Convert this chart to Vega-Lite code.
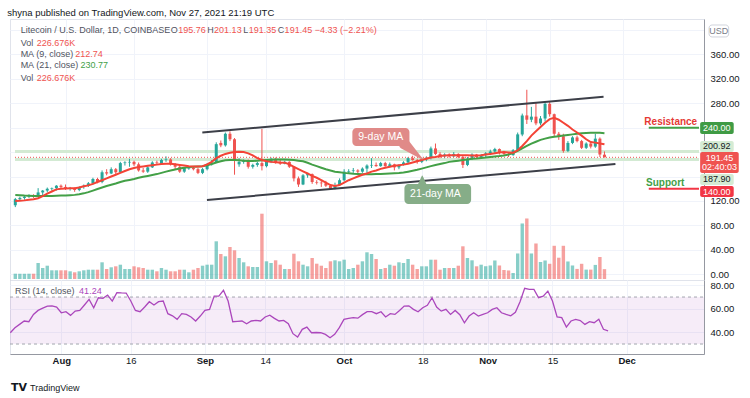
{
"$schema": "https://vega.github.io/schema/vega-lite/v6.json",
"background": "#ffffff",
"padding": {"left": 7, "top": 8, "right": 0, "bottom": 0},
"autosize": {"type": "pad"},
"title": {"text": "shyna published on TradingView.com, Nov 27, 2021 21:19 UTC", "anchor": "start", "fontSize": 9.5, "fontWeight": "normal", "font": "Liberation Sans", "color": "#131722", "offset": 1, "baseline": "top"},
"config": {"view": {"stroke": "#e0e3eb"}, "axis": {"labelFont": "Liberation Sans", "labelFontSize": 9.5, "labelColor": "#131722"}, "text": {"font": "Liberation Sans"}},
"spacing": 0,
"bounds": "flush",
"datasets": {
"ohlc": [
{"d":"2021-07-21","o":113,"h":125,"l":110,"c":123,"v":122,"m9":120,"m21":129.8,"r":39.6},
{"d":"2021-07-22","o":123,"h":127,"l":120,"c":125,"v":122,"m9":120.5,"m21":129.5,"r":43.9},
{"d":"2021-07-23","o":125,"h":129,"l":122,"c":127,"v":122,"m9":121,"m21":129,"r":46.7},
{"d":"2021-07-24","o":127,"h":131,"l":125,"c":128,"v":122,"m9":122,"m21":128.7,"r":49.6},
{"d":"2021-07-25","o":128,"h":131,"l":125,"c":127,"v":122,"m9":123,"m21":128.3,"r":49},
{"d":"2021-07-26","o":127,"h":141,"l":126,"c":134,"v":368,"m9":124.5,"m21":128,"r":55.2},
{"d":"2021-07-27","o":134,"h":138,"l":129,"c":137,"v":253,"m9":128,"m21":128,"r":58.6},
{"d":"2021-07-28","o":137,"h":142,"l":134,"c":140,"v":306,"m9":132,"m21":128,"r":60.5},
{"d":"2021-07-29","o":140,"h":142,"l":137,"c":141,"v":200,"m9":135.5,"m21":128.2,"r":62.3},
{"d":"2021-07-30","o":141,"h":146,"l":137,"c":145,"v":200,"m9":139,"m21":128.5,"r":62.5},
{"d":"2021-07-31","o":145,"h":147,"l":141,"c":143,"v":200,"m9":140,"m21":128.8,"r":61.5},
{"d":"2021-08-01","o":143,"h":147,"l":138,"c":140,"v":200,"m9":140.5,"m21":129,"r":56.6},
{"d":"2021-08-02","o":140,"h":143,"l":137,"c":141,"v":177,"m9":140.7,"m21":129.5,"r":57.5},
{"d":"2021-08-03","o":141,"h":142,"l":135,"c":138,"v":154,"m9":141,"m21":130,"r":54.4},
{"d":"2021-08-04","o":138,"h":144,"l":136,"c":143,"v":177,"m9":142,"m21":131,"r":58},
{"d":"2021-08-05","o":143,"h":147,"l":140,"c":145,"v":200,"m9":144,"m21":132.5,"r":58.6},
{"d":"2021-08-06","o":145,"h":151,"l":143,"c":149,"v":214,"m9":145.5,"m21":134.5,"r":63.2},
{"d":"2021-08-07","o":149,"h":158,"l":147,"c":156,"v":214,"m9":148,"m21":137,"r":68},
{"d":"2021-08-08","o":156,"h":158,"l":149,"c":151,"v":214,"m9":151,"m21":139.5,"r":60.9},
{"d":"2021-08-09","o":151,"h":170,"l":149,"c":167,"v":384,"m9":154,"m21":142,"r":69.4},
{"d":"2021-08-10","o":167,"h":172,"l":162,"c":165,"v":230,"m9":157,"m21":144.5,"r":68.9},
{"d":"2021-08-11","o":165,"h":175,"l":164,"c":172,"v":269,"m9":160,"m21":146.5,"r":71.7},
{"d":"2021-08-12","o":172,"h":174,"l":164,"c":167,"v":292,"m9":163,"m21":148.5,"r":66.6},
{"d":"2021-08-13","o":167,"h":184,"l":166,"c":182,"v":329,"m9":166,"m21":151,"r":73.7},
{"d":"2021-08-14","o":182,"h":185,"l":178,"c":183,"v":230,"m9":169,"m21":153,"r":73.5},
{"d":"2021-08-15","o":183,"h":189,"l":176,"c":184,"v":230,"m9":172,"m21":154.5,"r":73.4},
{"d":"2021-08-16","o":184,"h":186,"l":177,"c":180,"v":292,"m9":174,"m21":156,"r":66.6},
{"d":"2021-08-17","o":180,"h":183,"l":168,"c":170,"v":269,"m9":175.5,"m21":158,"r":58.6},
{"d":"2021-08-18","o":170,"h":174,"l":166,"c":168,"v":253,"m9":176.5,"m21":159.5,"r":57.5},
{"d":"2021-08-19","o":168,"h":177,"l":166,"c":175,"v":214,"m9":177.5,"m21":161,"r":61.5},
{"d":"2021-08-20","o":175,"h":185,"l":174,"c":183,"v":214,"m9":178.5,"m21":162.5,"r":66},
{"d":"2021-08-21","o":183,"h":186,"l":179,"c":182,"v":177,"m9":179.5,"m21":164,"r":63.2},
{"d":"2021-08-22","o":181,"h":189,"l":179,"c":187,"v":253,"m9":180.5,"m21":166,"r":66},
{"d":"2021-08-23","o":187,"h":193,"l":184,"c":188,"v":214,"m9":181,"m21":168,"r":66.6},
{"d":"2021-08-24","o":188,"h":190,"l":178,"c":180,"v":177,"m9":181,"m21":170,"r":55.8},
{"d":"2021-08-25","o":180,"h":182,"l":172,"c":176,"v":177,"m9":180,"m21":171.5,"r":54},
{"d":"2021-08-26","o":176,"h":178,"l":166,"c":168,"v":214,"m9":179,"m21":173,"r":51},
{"d":"2021-08-27","o":168,"h":175,"l":166,"c":174,"v":214,"m9":178,"m21":174.5,"r":55.8},
{"d":"2021-08-28","o":173,"h":177,"l":171,"c":174,"v":154,"m9":177,"m21":175.5,"r":55.2},
{"d":"2021-08-29","o":174,"h":176,"l":170,"c":172,"v":214,"m9":176.5,"m21":176,"r":53},
{"d":"2021-08-30","o":172,"h":174,"l":164,"c":166,"v":253,"m9":176.5,"m21":176.5,"r":49.6},
{"d":"2021-08-31","o":166,"h":174,"l":164,"c":172,"v":306,"m9":177,"m21":177,"r":53.8},
{"d":"2021-09-01","o":172,"h":182,"l":170,"c":180,"v":329,"m9":180,"m21":178.5,"r":58.6},
{"d":"2021-09-02","o":180,"h":187,"l":178,"c":183,"v":329,"m9":184,"m21":180.5,"r":59.5},
{"d":"2021-09-03","o":183,"h":216,"l":182,"c":213,"v":867,"m9":190,"m21":183,"r":70.8},
{"d":"2021-09-04","o":215,"h":219,"l":208,"c":211,"v":575,"m9":194,"m21":185,"r":70.8},
{"d":"2021-09-05","o":211,"h":232,"l":209,"c":230,"v":522,"m9":197,"m21":186.5,"r":75.7},
{"d":"2021-09-06","o":230,"h":234,"l":218,"c":221,"v":736,"m9":199,"m21":187,"r":66.6},
{"d":"2021-09-07","o":221,"h":223,"l":163,"c":186,"v":660,"m9":200,"m21":187,"r":49},
{"d":"2021-09-08","o":180,"h":190,"l":176,"c":184,"v":483,"m9":200.5,"m21":186.5,"r":49.3},
{"d":"2021-09-09","o":184,"h":188,"l":181,"c":186,"v":384,"m9":200,"m21":186,"r":49.6},
{"d":"2021-09-10","o":186,"h":188,"l":173,"c":176,"v":292,"m9":198,"m21":185.5,"r":47.3},
{"d":"2021-09-11","o":176,"h":181,"l":173,"c":179,"v":276,"m9":194.5,"m21":185.5,"r":49.6},
{"d":"2021-09-12","o":179,"h":184,"l":176,"c":182,"v":276,"m9":190,"m21":186,"r":50.1},
{"d":"2021-09-13","o":182,"h":238,"l":170,"c":177,"v":1502,"m9":187,"m21":186.5,"r":49.6},
{"d":"2021-09-14","o":177,"h":186,"l":175,"c":184,"v":407,"m9":185,"m21":187,"r":53},
{"d":"2021-09-15","o":184,"h":191,"l":182,"c":189,"v":368,"m9":184,"m21":187.5,"r":54.5},
{"d":"2021-09-16","o":189,"h":191,"l":181,"c":183,"v":430,"m9":183.5,"m21":188,"r":51.8},
{"d":"2021-09-17","o":183,"h":187,"l":179,"c":181,"v":329,"m9":183,"m21":188,"r":49.6},
{"d":"2021-09-18","o":181,"h":186,"l":180,"c":184,"v":230,"m9":182.7,"m21":188,"r":50.1},
{"d":"2021-09-19","o":184,"h":185,"l":174,"c":176,"v":230,"m9":180,"m21":187.5,"r":47.3},
{"d":"2021-09-20","o":176,"h":177,"l":152,"c":157,"v":582,"m9":176,"m21":187,"r":38.8},
{"d":"2021-09-21","o":157,"h":160,"l":143,"c":147,"v":407,"m9":172,"m21":186,"r":35.9},
{"d":"2021-09-22","o":147,"h":164,"l":146,"c":162,"v":329,"m9":168.5,"m21":185,"r":42.5},
{"d":"2021-09-23","o":162,"h":166,"l":158,"c":164,"v":292,"m9":165,"m21":182.5,"r":44.4},
{"d":"2021-09-24","o":164,"h":165,"l":148,"c":151,"v":483,"m9":161,"m21":179.5,"r":39.6},
{"d":"2021-09-25","o":151,"h":154,"l":147,"c":150,"v":352,"m9":158,"m21":177,"r":39.8},
{"d":"2021-09-26","o":150,"h":153,"l":143,"c":149,"v":306,"m9":154,"m21":174.5,"r":39.6},
{"d":"2021-09-27","o":149,"h":153,"l":143,"c":145,"v":253,"m9":150,"m21":172,"r":38.2},
{"d":"2021-09-28","o":145,"h":147,"l":138,"c":140,"v":407,"m9":146,"m21":170,"r":35.4},
{"d":"2021-09-29","o":140,"h":150,"l":139,"c":146,"v":430,"m9":144.5,"m21":168,"r":38.2},
{"d":"2021-09-30","o":146,"h":157,"l":145,"c":154,"v":407,"m9":146,"m21":167,"r":43.9},
{"d":"2021-10-01","o":154,"h":172,"l":152,"c":168,"v":444,"m9":150,"m21":166,"r":51},
{"d":"2021-10-02","o":168,"h":172,"l":165,"c":169,"v":230,"m9":154,"m21":165.3,"r":51.8},
{"d":"2021-10-03","o":169,"h":174,"l":166,"c":170,"v":253,"m9":157,"m21":164.6,"r":52.4},
{"d":"2021-10-04","o":170,"h":172,"l":163,"c":168,"v":329,"m9":160,"m21":164.2,"r":52},
{"d":"2021-10-05","o":168,"h":175,"l":166,"c":173,"v":407,"m9":163,"m21":163.9,"r":55},
{"d":"2021-10-06","o":173,"h":180,"l":165,"c":178,"v":614,"m9":165,"m21":163.7,"r":57.5},
{"d":"2021-10-07","o":178,"h":190,"l":174,"c":179,"v":575,"m9":168,"m21":163.7,"r":57.5},
{"d":"2021-10-08","o":179,"h":183,"l":176,"c":177,"v":460,"m9":170,"m21":164,"r":55.8},
{"d":"2021-10-09","o":177,"h":184,"l":176,"c":182,"v":230,"m9":172.5,"m21":164.3,"r":57.5},
{"d":"2021-10-10","o":182,"h":184,"l":176,"c":177,"v":253,"m9":174.5,"m21":164.6,"r":53},
{"d":"2021-10-11","o":177,"h":183,"l":175,"c":180,"v":329,"m9":176,"m21":165,"r":55.8},
{"d":"2021-10-12","o":180,"h":181,"l":170,"c":175,"v":306,"m9":177.5,"m21":165.4,"r":55.2},
{"d":"2021-10-13","o":175,"h":180,"l":172,"c":179,"v":384,"m9":178.5,"m21":165.8,"r":58.6},
{"d":"2021-10-14","o":179,"h":185,"l":178,"c":183,"v":368,"m9":179.5,"m21":166.5,"r":62.3},
{"d":"2021-10-15","o":183,"h":192,"l":181,"c":190,"v":460,"m9":181,"m21":168,"r":62.5},
{"d":"2021-10-16","o":190,"h":194,"l":186,"c":187,"v":329,"m9":183,"m21":169.5,"r":59.5},
{"d":"2021-10-17","o":187,"h":189,"l":181,"c":184,"v":230,"m9":185,"m21":171,"r":57.5},
{"d":"2021-10-18","o":184,"h":191,"l":182,"c":188,"v":292,"m9":187,"m21":173,"r":60.9},
{"d":"2021-10-19","o":188,"h":193,"l":185,"c":191,"v":292,"m9":189,"m21":175,"r":63},
{"d":"2021-10-20","o":191,"h":209,"l":188,"c":206,"v":444,"m9":191,"m21":177,"r":69.4},
{"d":"2021-10-21","o":206,"h":214,"l":195,"c":197,"v":444,"m9":192,"m21":179,"r":61.5},
{"d":"2021-10-22","o":197,"h":200,"l":190,"c":193,"v":214,"m9":193.5,"m21":180.5,"r":58},
{"d":"2021-10-23","o":193,"h":198,"l":190,"c":196,"v":253,"m9":194.5,"m21":182,"r":59.5},
{"d":"2021-10-24","o":196,"h":198,"l":191,"c":193,"v":253,"m9":195,"m21":184,"r":55.2},
{"d":"2021-10-25","o":193,"h":200,"l":192,"c":197,"v":253,"m9":195,"m21":185,"r":58.6},
{"d":"2021-10-26","o":197,"h":198,"l":190,"c":192,"v":306,"m9":195,"m21":186,"r":55},
{"d":"2021-10-27","o":192,"h":195,"l":174,"c":179,"v":752,"m9":195,"m21":187,"r":48.1},
{"d":"2021-10-28","o":179,"h":192,"l":177,"c":189,"v":483,"m9":194.8,"m21":188,"r":53.8},
{"d":"2021-10-29","o":189,"h":198,"l":187,"c":196,"v":430,"m9":194.5,"m21":189,"r":56.6},
{"d":"2021-10-30","o":196,"h":197,"l":190,"c":192,"v":292,"m9":194.5,"m21":189.5,"r":53.8},
{"d":"2021-10-31","o":192,"h":197,"l":189,"c":195,"v":329,"m9":195,"m21":190.5,"r":55.2},
{"d":"2021-11-01","o":195,"h":200,"l":192,"c":198,"v":294,"m9":196,"m21":191,"r":56.6},
{"d":"2021-11-02","o":198,"h":204,"l":195,"c":201,"v":311,"m9":197,"m21":192,"r":59.5},
{"d":"2021-11-03","o":201,"h":207,"l":197,"c":205,"v":426,"m9":198,"m21":192.8,"r":60.9},
{"d":"2021-11-04","o":205,"h":206,"l":196,"c":199,"v":311,"m9":199.5,"m21":193.5,"r":56.6},
{"d":"2021-11-05","o":199,"h":202,"l":195,"c":197,"v":207,"m9":200,"m21":194.5,"r":55.2},
{"d":"2021-11-06","o":197,"h":199,"l":192,"c":195,"v":196,"m9":199.5,"m21":196,"r":54},
{"d":"2021-11-07","o":195,"h":205,"l":194,"c":203,"v":138,"m9":199,"m21":198.5,"r":57},
{"d":"2021-11-08","o":203,"h":232,"l":201,"c":229,"v":587,"m9":203,"m21":202,"r":66},
{"d":"2021-11-09","o":229,"h":263,"l":226,"c":260,"v":1277,"m9":210,"m21":206,"r":77.4},
{"d":"2021-11-10","o":260,"h":302,"l":246,"c":253,"v":1392,"m9":218,"m21":210,"r":76.5},
{"d":"2021-11-11","o":253,"h":274,"l":249,"c":258,"v":587,"m9":227,"m21":214,"r":76.5},
{"d":"2021-11-12","o":258,"h":282,"l":244,"c":247,"v":817,"m9":234,"m21":217,"r":69.4},
{"d":"2021-11-13","o":247,"h":259,"l":244,"c":255,"v":391,"m9":241,"m21":220,"r":70.8},
{"d":"2021-11-14","o":255,"h":282,"l":250,"c":279,"v":426,"m9":248,"m21":222,"r":75.1},
{"d":"2021-11-15","o":279,"h":283,"l":258,"c":262,"v":350,"m9":254,"m21":224,"r":66.6},
{"d":"2021-11-16","o":262,"h":263,"l":225,"c":230,"v":764,"m9":256,"m21":225,"r":53},
{"d":"2021-11-17","o":230,"h":233,"l":220,"c":226,"v":490,"m9":253,"m21":226,"r":52.4},
{"d":"2021-11-18","o":226,"h":230,"l":199,"c":202,"v":764,"m9":248,"m21":227,"r":44.4},
{"d":"2021-11-19","o":202,"h":218,"l":200,"c":215,"v":403,"m9":243,"m21":228,"r":49.6},
{"d":"2021-11-20","o":215,"h":226,"l":213,"c":224,"v":311,"m9":237,"m21":229,"r":51},
{"d":"2021-11-21","o":224,"h":227,"l":216,"c":218,"v":232,"m9":232,"m21":230,"r":50},
{"d":"2021-11-22","o":218,"h":220,"l":205,"c":207,"v":350,"m9":227,"m21":230.7,"r":46.7},
{"d":"2021-11-23","o":207,"h":216,"l":205,"c":214,"v":216,"m9":221,"m21":231.2,"r":49},
{"d":"2021-11-24","o":214,"h":216,"l":206,"c":209,"v":216,"m9":216.5,"m21":231.6,"r":48.1},
{"d":"2021-11-25","o":209,"h":230,"l":207,"c":222,"v":324,"m9":215.5,"m21":231.8,"r":51},
{"d":"2021-11-26","o":222,"h":224,"l":192,"c":196,"v":506,"m9":214,"m21":231.5,"r":42.5},
{"d":"2021-11-27","o":195.76,"h":201.13,"l":191.35,"c":191.45,"v":226.676,"m9":212.74,"m21":230.77,"r":41.24}
],
"lev": [
{"d":"2021-07-20T22:26:00Z","d2":"2021-12-17T16:48:00Z","p":200.92},
{"d":"2021-07-20T22:26:00Z","d2":"2021-12-17T16:48:00Z","p":187.9}
],
"last": [{"d":"2021-07-20T22:26:00Z","d2":"2021-12-17T16:48:00Z","p":191.45}],
"sr": [
{"d":"2021-12-06T16:48:00Z","d2":"2021-12-17T16:48:00Z","p":240,"k":"rl"},
{"d":"2021-12-06T16:48:00Z","d2":"2021-12-17T16:48:00Z","p":140,"k":"sl"}
],
"chan": [
{"d":"2021-08-30T22:48:00Z","p":232,"g":"up"},
{"d":"2021-11-26T19:12:00Z","p":290.5,"g":"up"},
{"d":"2021-08-31T23:02:00Z","p":121.6,"g":"lo"},
{"d":"2021-11-29T09:36:00Z","p":180.5,"g":"lo"}
],
"boxes": [
{"d":"2021-10-02T19:12:00Z","d2":"2021-10-15T07:12:00Z","p":239.4,"p2":210,"k":"ma9"},
{"d":"2021-10-14T04:48:00Z","d2":"2021-10-28T19:12:00Z","p":147.8,"p2":115.1,"k":"ma21"}
],
"tails": [
{"d":"2021-10-14T04:48:00Z","p":213.3,"k":"ma9","s":"base","n":0},
{"d":"2021-10-18T02:24:00Z","p":188.7,"k":"ma9","s":"tip","n":1},
{"d":"2021-10-18T02:24:00Z","p":142.9,"k":"ma21","s":"base","n":0},
{"d":"2021-10-18T02:24:00Z","p":160.9,"k":"ma21","s":"tip","n":1}
],
"mal": [
{"d":"2021-10-09T00:00:00Z","p":224.7,"t":"9-day MA"},
{"d":"2021-10-21T00:00:00Z","p":131.4,"t":"21-day MA"}
],
"leg": [
{"d":"2021-07-22T04:00:00Z","p":399.3,"t":"Litecoin / U.S. Dollar, 1D, COINBASE","k":"lab"},
{"d":"2021-08-24T01:00:00Z","p":399.3,"t":"O","k":"lab"},
{"d":"2021-08-25T15:50:00Z","p":399.3,"t":"195.76","k":"red"},
{"d":"2021-09-01T00:29:00Z","p":399.3,"t":"H","k":"lab"},
{"d":"2021-09-02T12:43:00Z","p":399.3,"t":"201.13","k":"red"},
{"d":"2021-09-08T21:36:00Z","p":399.3,"t":"L","k":"lab"},
{"d":"2021-09-10T02:10:00Z","p":399.3,"t":"191.35","k":"red"},
{"d":"2021-09-16T11:02:00Z","p":399.3,"t":"C","k":"lab"},
{"d":"2021-09-17T23:17:00Z","p":399.3,"t":"191.45","k":"red"},
{"d":"2021-09-24T13:12:00Z","p":399.3,"t":"−4.33 (−2.21%)","k":"red"},
{"d":"2021-07-22T04:00:00Z","p":379,"t":"Vol","k":"lab"},
{"d":"2021-07-25T16:19:00Z","p":379,"t":"226.676K","k":"red"},
{"d":"2021-07-22T04:00:00Z","p":361,"t":"MA (9, close)","k":"lab"},
{"d":"2021-08-03T02:24:00Z","p":361,"t":"212.74","k":"red"},
{"d":"2021-07-22T04:00:00Z","p":342.6,"t":"MA (21, close)","k":"lab"},
{"d":"2021-08-04T07:00:00Z","p":342.6,"t":"230.77","k":"green"},
{"d":"2021-07-22T04:00:00Z","p":321.8,"t":"Vol","k":"lab"},
{"d":"2021-07-25T16:19:00Z","p":321.8,"t":"226.676K","k":"red"}
],
"srt": [
{"d":"2021-12-17T07:12:00Z","p":249.6,"t":"Resistance","k":"res"},
{"d":"2021-12-14T12:00:00Z","p":150.2,"t":"Support","k":"sup"}
],
"rb": [
{"d":"2021-12-17T22:48:00Z","d2":"2021-12-25T07:12:00Z","p":249.3,"p2":229.6,"k":"bgreen"},
{"d":"2021-12-17T22:48:00Z","d2":"2021-12-25T07:12:00Z","p":218.2,"p2":200.2,"k":"blight"},
{"d":"2021-12-17T22:48:00Z","d2":"2021-12-26T09:36:00Z","p":200.2,"p2":165.8,"k":"bred"},
{"d":"2021-12-17T22:48:00Z","d2":"2021-12-25T07:12:00Z","p":164.2,"p2":146.2,"k":"blight"},
{"d":"2021-12-17T22:48:00Z","d2":"2021-12-25T07:12:00Z","p":144.5,"p2":126.5,"k":"bred2"}
],
"usd": [{"d":"2021-12-19T21:36:00Z","d2":"2021-12-24T04:48:00Z","p":408,"p2":388.4}],
"rt": [
{"d":"2021-12-21T14:24:00Z","p":239.4,"t":"240.00","k":"white"},
{"d":"2021-12-21T14:24:00Z","p":209.2,"t":"200.92","k":"dark"},
{"d":"2021-12-22T04:48:00Z","p":191,"t":"191.45","k":"white"},
{"d":"2021-12-22T04:48:00Z","p":175,"t":"02:40:03","k":"white"},
{"d":"2021-12-21T14:24:00Z","p":155.2,"t":"187.90","k":"dark"},
{"d":"2021-12-21T14:24:00Z","p":135.5,"t":"140.00","k":"white"},
{"d":"2021-12-22T00:00:00Z","p":398.2,"t":"USD","k":"gray"}
],
"band": [{"d":"2021-07-20T22:26:00Z","d2":"2021-12-17T16:48:00Z","p":70,"p2":30}],
"rlev": [
{"d":"2021-07-20T22:26:00Z","d2":"2021-12-17T16:48:00Z","p":70},
{"d":"2021-07-20T22:26:00Z","d2":"2021-12-17T16:48:00Z","p":30}
],
"rtx": [
{"d":"2021-07-22T00:00:00Z","p":75.1,"t":"RSI (14, close)","k":"lab"},
{"d":"2021-08-04T20:24:00Z","p":75.1,"t":"41.24","k":"purple"},
{"d":"2021-07-25T06:00:00Z","p":-7.45,"t":"TradingView","k":"dark"}
],
"logo": [{"d":"2021-07-21T03:36:00Z","p":-7.45,"t":"TV"}]
},
"vconcat": [
{
"width": 694, "height": 261,
"layer": [
{
"data": {"name": "ohlc"},
"mark": {"type": "bar", "size": 3.4, "clip": true, "opacity": 0.55},
"encoding": {
"x": {"field": "d", "type": "temporal", "scale": {"type": "utc", "domain": [{"year":2021,"month":7,"date":20,"hours":22,"minutes":26,"utc":true},{"year":2021,"month":12,"date":17,"hours":16,"minutes":48,"utc":true}]},
"axis": {"orient": "bottom", "values": [{"year":2021,"month":8,"date":1,"utc":true},{"year":2021,"month":8,"date":16,"utc":true},{"year":2021,"month":9,"date":1,"utc":true},{"year":2021,"month":9,"date":14,"utc":true},{"year":2021,"month":10,"date":1,"utc":true},{"year":2021,"month":10,"date":18,"utc":true},{"year":2021,"month":11,"date":1,"utc":true},{"year":2021,"month":11,"date":15,"utc":true},{"year":2021,"month":12,"date":1,"utc":true}], "tickCount": 20, "labels": false, "ticks": false, "domain": true, "domainColor": "#9598a1", "grid": true, "gridColor": "#f0f3fa", "title": null}},
"y": {"field": "v", "type": "quantitative", "scale": {"domain": [-23, 5980], "nice": false, "zero": false}, "axis": null},
"color": {"condition": {"test": "datum.c >= datum.o", "value": "#26a69a"}, "value": "#ef5350"}
}
},
{
"layer": [
{
"data": {"name": "lev"},
"mark": {"type": "rule", "color": "#d3ead3", "strokeWidth": 3},
"encoding": {
"x": {"field": "d", "type": "temporal", "scale": {"type": "utc", "domain": [{"year":2021,"month":7,"date":20,"hours":22,"minutes":26,"utc":true},{"year":2021,"month":12,"date":17,"hours":16,"minutes":48,"utc":true}]}},
"x2": {"field": "d2"},
"y": {"field": "p", "type": "quantitative", "scale": {"domain": [-9.3, 417.8], "nice": false, "zero": false},
"axis": {"orient": "right", "values": [0,40,80,120,160,200,240,280,320,360,400], "tickCount": 30, "labelExpr": "indexof([160, 200, 240, 400], datum.value) >= 0 ? '' : format(datum.value, '.2f')", "labelOverlap": false, "grid": true, "gridColor": "#f0f3fa", "domain": true, "domainColor": "#9598a1", "ticks": false, "labels": true, "labelPadding": 6, "title": null}}
}
},
{
"data": {"name": "ohlc"},
"mark": {"type": "rule", "strokeWidth": 1, "clip": true},
"encoding": {
"x": {"field": "d", "type": "temporal", "scale": {"type": "utc", "domain": [{"year":2021,"month":7,"date":20,"hours":22,"minutes":26,"utc":true},{"year":2021,"month":12,"date":17,"hours":16,"minutes":48,"utc":true}]}},
"y": {"field": "l", "type": "quantitative", "scale": {"domain": [-9.3, 417.8], "nice": false, "zero": false}},
"y2": {"field": "h"},
"color": {"condition": {"test": "datum.c >= datum.o", "value": "#26a69a"}, "value": "#ef5350"}
}
},
{
"data": {"name": "ohlc"},
"mark": {"type": "bar", "size": 3, "clip": true},
"encoding": {
"x": {"field": "d", "type": "temporal", "scale": {"type": "utc", "domain": [{"year":2021,"month":7,"date":20,"hours":22,"minutes":26,"utc":true},{"year":2021,"month":12,"date":17,"hours":16,"minutes":48,"utc":true}]}},
"y": {"field": "o", "type": "quantitative", "scale": {"domain": [-9.3, 417.8], "nice": false, "zero": false}},
"y2": {"field": "c"},
"color": {"condition": {"test": "datum.c >= datum.o", "value": "#26a69a"}, "value": "#ef5350"}
}
},
{
"data": {"name": "last"},
"mark": {"type": "rule", "color": "#ef5350", "strokeWidth": 1, "strokeDash": [1, 2]},
"encoding": {
"x": {"field": "d", "type": "temporal", "scale": {"type": "utc", "domain": [{"year":2021,"month":7,"date":20,"hours":22,"minutes":26,"utc":true},{"year":2021,"month":12,"date":17,"hours":16,"minutes":48,"utc":true}]}},
"x2": {"field": "d2"},
"y": {"field": "p", "type": "quantitative", "scale": {"domain": [-9.3, 417.8], "nice": false, "zero": false}}
}
},
{
"data": {"name": "chan"},
"mark": {"type": "line", "color": "#3c3f48", "strokeWidth": 2},
"encoding": {
"x": {"field": "d", "type": "temporal", "scale": {"type": "utc", "domain": [{"year":2021,"month":7,"date":20,"hours":22,"minutes":26,"utc":true},{"year":2021,"month":12,"date":17,"hours":16,"minutes":48,"utc":true}]}},
"y": {"field": "p", "type": "quantitative", "scale": {"domain": [-9.3, 417.8], "nice": false, "zero": false}},
"detail": {"field": "g"}
}
},
{
"data": {"name": "ohlc"},
"mark": {"type": "line", "color": "#43a047", "strokeWidth": 2, "clip": true},
"encoding": {
"x": {"field": "d", "type": "temporal", "scale": {"type": "utc", "domain": [{"year":2021,"month":7,"date":20,"hours":22,"minutes":26,"utc":true},{"year":2021,"month":12,"date":17,"hours":16,"minutes":48,"utc":true}]}},
"y": {"field": "m21", "type": "quantitative", "scale": {"domain": [-9.3, 417.8], "nice": false, "zero": false}}
}
},
{
"data": {"name": "ohlc"},
"mark": {"type": "line", "color": "#f44336", "strokeWidth": 2, "clip": true},
"encoding": {
"x": {"field": "d", "type": "temporal", "scale": {"type": "utc", "domain": [{"year":2021,"month":7,"date":20,"hours":22,"minutes":26,"utc":true},{"year":2021,"month":12,"date":17,"hours":16,"minutes":48,"utc":true}]}},
"y": {"field": "m9", "type": "quantitative", "scale": {"domain": [-9.3, 417.8], "nice": false, "zero": false}}
}
},
{
"data": {"name": "sr"},
"mark": {"type": "rule", "strokeWidth": 2},
"encoding": {
"x": {"field": "d", "type": "temporal", "scale": {"type": "utc", "domain": [{"year":2021,"month":7,"date":20,"hours":22,"minutes":26,"utc":true},{"year":2021,"month":12,"date":17,"hours":16,"minutes":48,"utc":true}]}},
"x2": {"field": "d2"},
"y": {"field": "p", "type": "quantitative", "scale": {"domain": [-9.3, 417.8], "nice": false, "zero": false}},
"color": {"field": "k", "type": "nominal", "scale": {"domain": ["lab","red","green","white","dark","gray","purple","res","sup","rl","sl"], "range": ["#50535e","#ef5350","#43a047","#ffffff","#131722","#787b86","#ab47bc","#e53935","#43a047","#43a047","#f23645"]}, "legend": null}
}
},
{
"data": {"name": "boxes"},
"mark": {"type": "rect", "cornerRadius": 4},
"encoding": {
"x": {"field": "d", "type": "temporal", "scale": {"type": "utc", "domain": [{"year":2021,"month":7,"date":20,"hours":22,"minutes":26,"utc":true},{"year":2021,"month":12,"date":17,"hours":16,"minutes":48,"utc":true}]}},
"x2": {"field": "d2"},
"y": {"field": "p", "type": "quantitative", "scale": {"domain": [-9.3, 417.8], "nice": false, "zero": false}},
"y2": {"field": "p2"},
"fill": {"field": "k", "type": "nominal", "scale": {"domain": ["ma9","ma21","bgreen","blight","bred","bred2"], "range": ["#e08a88","#86ad88","#3f9b44","#d5ebd3","#ef5350","#f23645"]}, "legend": null}
}
},
{
"data": {"name": "tails"},
"mark": {"type": "trail"},
"encoding": {
"x": {"field": "d", "type": "temporal", "scale": {"type": "utc", "domain": [{"year":2021,"month":7,"date":20,"hours":22,"minutes":26,"utc":true},{"year":2021,"month":12,"date":17,"hours":16,"minutes":48,"utc":true}]}},
"y": {"field": "p", "type": "quantitative", "scale": {"domain": [-9.3, 417.8], "nice": false, "zero": false}},
"order": {"field": "n"},
"size": {"field": "s", "type": "ordinal", "scale": {"domain": ["base", "tip"], "range": [11, 1]}, "legend": null},
"fill": {"field": "k", "type": "nominal", "scale": {"domain": ["ma9","ma21","bgreen","blight","bred","bred2"], "range": ["#e08a88","#86ad88","#3f9b44","#d5ebd3","#ef5350","#f23645"]}, "legend": null}
}
},
{
"data": {"name": "mal"},
"mark": {"type": "text", "align": "center", "baseline": "middle", "fontSize": 10.5, "color": "#ffffff"},
"encoding": {
"x": {"field": "d", "type": "temporal", "scale": {"type": "utc", "domain": [{"year":2021,"month":7,"date":20,"hours":22,"minutes":26,"utc":true},{"year":2021,"month":12,"date":17,"hours":16,"minutes":48,"utc":true}]}},
"y": {"field": "p", "type": "quantitative", "scale": {"domain": [-9.3, 417.8], "nice": false, "zero": false}},
"text": {"field": "t"}
}
},
{
"data": {"name": "leg"},
"mark": {"type": "text", "align": "left", "baseline": "middle", "fontSize": 9},
"encoding": {
"x": {"field": "d", "type": "temporal", "scale": {"type": "utc", "domain": [{"year":2021,"month":7,"date":20,"hours":22,"minutes":26,"utc":true},{"year":2021,"month":12,"date":17,"hours":16,"minutes":48,"utc":true}]}},
"y": {"field": "p", "type": "quantitative", "scale": {"domain": [-9.3, 417.8], "nice": false, "zero": false}},
"text": {"field": "t"},
"color": {"field": "k", "type": "nominal", "scale": {"domain": ["lab","red","green","white","dark","gray","purple","res","sup","rl","sl"], "range": ["#50535e","#ef5350","#43a047","#ffffff","#131722","#787b86","#ab47bc","#e53935","#43a047","#43a047","#f23645"]}, "legend": null}
}
},
{
"data": {"name": "srt"},
"mark": {"type": "text", "align": "right", "baseline": "middle", "fontSize": 10, "fontWeight": "bold"},
"encoding": {
"x": {"field": "d", "type": "temporal", "scale": {"type": "utc", "domain": [{"year":2021,"month":7,"date":20,"hours":22,"minutes":26,"utc":true},{"year":2021,"month":12,"date":17,"hours":16,"minutes":48,"utc":true}]}},
"y": {"field": "p", "type": "quantitative", "scale": {"domain": [-9.3, 417.8], "nice": false, "zero": false}},
"text": {"field": "t"},
"color": {"field": "k", "type": "nominal", "scale": {"domain": ["lab","red","green","white","dark","gray","purple","res","sup","rl","sl"], "range": ["#50535e","#ef5350","#43a047","#ffffff","#131722","#787b86","#ab47bc","#e53935","#43a047","#43a047","#f23645"]}, "legend": null}
}
},
{
"data": {"name": "rb"},
"mark": {"type": "rect", "cornerRadius": 2},
"encoding": {
"x": {"field": "d", "type": "temporal", "scale": {"type": "utc", "domain": [{"year":2021,"month":7,"date":20,"hours":22,"minutes":26,"utc":true},{"year":2021,"month":12,"date":17,"hours":16,"minutes":48,"utc":true}]}},
"x2": {"field": "d2"},
"y": {"field": "p", "type": "quantitative", "scale": {"domain": [-9.3, 417.8], "nice": false, "zero": false}},
"y2": {"field": "p2"},
"fill": {"field": "k", "type": "nominal", "scale": {"domain": ["ma9","ma21","bgreen","blight","bred","bred2"], "range": ["#e08a88","#86ad88","#3f9b44","#d5ebd3","#ef5350","#f23645"]}, "legend": null}
}
},
{
"data": {"name": "usd"},
"mark": {"type": "rect", "cornerRadius": 3, "fill": "#ffffff", "stroke": "#d1d4dc", "strokeWidth": 1},
"encoding": {
"x": {"field": "d", "type": "temporal", "scale": {"type": "utc", "domain": [{"year":2021,"month":7,"date":20,"hours":22,"minutes":26,"utc":true},{"year":2021,"month":12,"date":17,"hours":16,"minutes":48,"utc":true}]}},
"x2": {"field": "d2"},
"y": {"field": "p", "type": "quantitative", "scale": {"domain": [-9.3, 417.8], "nice": false, "zero": false}},
"y2": {"field": "p2"}
}
},
{
"data": {"name": "rt"},
"mark": {"type": "text", "align": "center", "baseline": "middle", "fontSize": 9},
"encoding": {
"x": {"field": "d", "type": "temporal", "scale": {"type": "utc", "domain": [{"year":2021,"month":7,"date":20,"hours":22,"minutes":26,"utc":true},{"year":2021,"month":12,"date":17,"hours":16,"minutes":48,"utc":true}]}},
"y": {"field": "p", "type": "quantitative", "scale": {"domain": [-9.3, 417.8], "nice": false, "zero": false}},
"text": {"field": "t"},
"color": {"field": "k", "type": "nominal", "scale": {"domain": ["lab","red","green","white","dark","gray","purple","res","sup","rl","sl"], "range": ["#50535e","#ef5350","#43a047","#ffffff","#131722","#787b86","#ab47bc","#e53935","#43a047","#43a047","#f23645"]}, "legend": null}
}
}
]
}
],
"resolve": {"scale": {"y": "independent"}}
},
{
"width": 694, "height": 74,
"layer": [
{
"data": {"name": "band"},
"mark": {"type": "rect", "fill": "#9c27b0", "opacity": 0.09},
"encoding": {
"x": {"field": "d", "type": "temporal", "scale": {"type": "utc", "domain": [{"year":2021,"month":7,"date":20,"hours":22,"minutes":26,"utc":true},{"year":2021,"month":12,"date":17,"hours":16,"minutes":48,"utc":true}]},
"axis": {"orient": "bottom", "values": [{"year":2021,"month":8,"date":1,"utc":true},{"year":2021,"month":8,"date":16,"utc":true},{"year":2021,"month":9,"date":1,"utc":true},{"year":2021,"month":9,"date":14,"utc":true},{"year":2021,"month":10,"date":1,"utc":true},{"year":2021,"month":10,"date":18,"utc":true},{"year":2021,"month":11,"date":1,"utc":true},{"year":2021,"month":11,"date":15,"utc":true},{"year":2021,"month":12,"date":1,"utc":true}], "tickCount": 20, "labelExpr": "utcdate(datum.value) == 1 ? utcFormat(datum.value, '%b') : utcFormat(datum.value, '%-d')", "labelFontWeight": {"condition": {"test": "utcdate(datum.value) == 1", "value": "bold"}, "value": "normal"}, "labels": true, "labelOverlap": false, "labelFlush": false, "labelPadding": 1, "ticks": false, "domain": true, "domainColor": "#9598a1", "grid": true, "gridColor": "#f0f3fa", "title": null}},
"x2": {"field": "d2"},
"y": {"field": "p", "type": "quantitative", "scale": {"domain": [21.5, 84.5], "nice": false, "zero": false},
"axis": {"orient": "right", "values": [40, 60, 80], "tickCount": 10, "format": ".2f", "labelOverlap": false, "grid": true, "gridColor": "#f0f3fa", "domain": true, "domainColor": "#9598a1", "ticks": false, "labels": true, "labelPadding": 6, "title": null}},
"y2": {"field": "p2"}
}
},
{
"data": {"name": "rlev"},
"mark": {"type": "rule", "color": "#a3a6af", "strokeWidth": 1, "strokeDash": [3, 3]},
"encoding": {
"x": {"field": "d", "type": "temporal", "scale": {"type": "utc", "domain": [{"year":2021,"month":7,"date":20,"hours":22,"minutes":26,"utc":true},{"year":2021,"month":12,"date":17,"hours":16,"minutes":48,"utc":true}]}},
"x2": {"field": "d2"},
"y": {"field": "p", "type": "quantitative", "scale": {"domain": [21.5, 84.5], "nice": false, "zero": false}}
}
},
{
"data": {"name": "ohlc"},
"mark": {"type": "line", "color": "#ab47bc", "strokeWidth": 1.3},
"encoding": {
"x": {"field": "d", "type": "temporal", "scale": {"type": "utc", "domain": [{"year":2021,"month":7,"date":20,"hours":22,"minutes":26,"utc":true},{"year":2021,"month":12,"date":17,"hours":16,"minutes":48,"utc":true}]}},
"y": {"field": "r", "type": "quantitative", "scale": {"domain": [21.5, 84.5], "nice": false, "zero": false}}
}
},
{
"data": {"name": "rtx"},
"mark": {"type": "text", "align": "left", "baseline": "middle", "fontSize": 9},
"encoding": {
"x": {"field": "d", "type": "temporal", "scale": {"type": "utc", "domain": [{"year":2021,"month":7,"date":20,"hours":22,"minutes":26,"utc":true},{"year":2021,"month":12,"date":17,"hours":16,"minutes":48,"utc":true}]}},
"y": {"field": "p", "type": "quantitative", "scale": {"domain": [21.5, 84.5], "nice": false, "zero": false}},
"text": {"field": "t"},
"color": {"field": "k", "type": "nominal", "scale": {"domain": ["lab","red","green","white","dark","gray","purple","res","sup","rl","sl"], "range": ["#50535e","#ef5350","#43a047","#ffffff","#131722","#787b86","#ab47bc","#e53935","#43a047","#43a047","#f23645"]}, "legend": null}
}
},
{
"data": {"name": "logo"},
"mark": {"type": "text", "align": "left", "baseline": "middle", "fontSize": 11, "fontWeight": "bold", "color": "#131722", "font": "DejaVu Sans"},
"encoding": {
"x": {"field": "d", "type": "temporal", "scale": {"type": "utc", "domain": [{"year":2021,"month":7,"date":20,"hours":22,"minutes":26,"utc":true},{"year":2021,"month":12,"date":17,"hours":16,"minutes":48,"utc":true}]}},
"y": {"field": "p", "type": "quantitative", "scale": {"domain": [21.5, 84.5], "nice": false, "zero": false}},
"text": {"field": "t"}
}
}
]
}
]
}
